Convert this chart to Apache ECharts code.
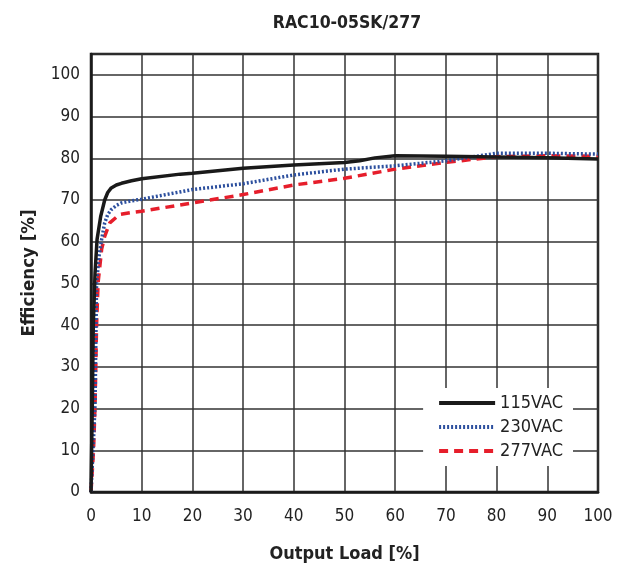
<!DOCTYPE html>
<html>
<head>
<meta charset="utf-8">
<script src="https://cdn.jsdelivr.net/npm/echarts@6/dist/echarts.min.js"></script>
<style>html,body{margin:0;padding:0;background:#fff}#c{width:628px;height:568px}</style>
</head>
<body>
<div id="c"></div>
<script>
const titleText = "RAC10-05SK/277";
const seriesNames = ["115VAC", "230VAC", "277VAC"];
const xTicks = [0, 10, 20, 30, 40, 50, 60, 70, 80, 90, 100];
const yTicks = [0, 10, 20, 30, 40, 50, 60, 70, 80, 90, 100];

const load115 = [0, 0.26, 0.45, 0.8, 1.2, 1.9, 2.7, 3.3, 4, 5, 6, 8, 10, 17.6, 20, 30, 40, 50, 53, 56, 60, 70, 80, 90, 100];
const eff115  = [0, 20.9, 40, 52.6, 60.6, 66, 70, 71.8, 72.9, 73.6, 74.0, 74.6, 75.1, 76.2, 76.4, 77.6, 78.4, 79.0, 79.4, 80.1, 80.6, 80.5, 80.3, 80.1, 79.8];

const load230 = [0, 0.4, 0.8, 1.1, 1.6, 2.1, 2.7, 3.3, 4, 5, 6, 8, 10, 20, 30, 40, 50, 60, 70, 80, 90, 100];
const eff230  = [0, 10, 21, 50, 56.6, 60.6, 64.5, 66.5, 67.7, 68.7, 69.3, 69.8, 70.2, 72.5, 73.9, 76.0, 77.4, 78.2, 79.4, 81.2, 81.2, 81.0];

const load277 = [0, 0.5, 0.8, 1.1, 1.4, 2.1, 2.7, 3.7, 5.6, 8, 10, 20, 30, 40, 50, 60, 70, 80, 90, 100];
const eff277  = [0, 10, 20.9, 40, 50.2, 58.2, 61.3, 64.5, 66.5, 67.0, 67.3, 69.3, 71.3, 73.6, 75.2, 77.4, 79.0, 80.4, 80.6, 80.5];

const FONT = "'DejaVu Sans Condensed', 'Liberation Sans', sans-serif";
const pair = (xs, ys) => xs.map((x, i) => [x, ys[i]]);

const chart = echarts.init(document.getElementById('c'), null, {renderer: 'canvas'});
chart.setOption({
  animation: false,
  backgroundColor: '#fff',
  textStyle: {fontFamily: FONT},
  title: {
    text: titleText, left: 342, top: 9, textAlign: 'center',
    textStyle: {fontFamily: FONT, fontSize: 17.5, fontWeight: 'bold', color: '#222'}
  },
  grid: {left: 91, right: 30, top: 54, bottom: 75, show: true, borderColor: '#1a1a1a', borderWidth: 2.5, backgroundColor: 'transparent'},
  legend: {
    data: seriesNames, orient: 'vertical', right: 55, bottom: 102,
    backgroundColor: '#fff', padding: [6, 10, 6, 14], itemGap: 6,
    itemWidth: 56, itemHeight: 14,
    itemStyle: {opacity: 0},
    lineStyle: {width: 4},
    textStyle: {fontFamily: FONT, fontSize: 18, color: '#222'}
  },
  xAxis: {
    type: 'value', min: xTicks[0], max: xTicks[xTicks.length - 1], interval: 10,
    name: 'Output Load [%]', nameLocation: 'middle', nameGap: 53,
    nameTextStyle: {fontFamily: FONT, fontSize: 18, fontWeight: 'bold', color: '#222'},
    axisLine: {show: true, lineStyle: {color: '#1a1a1a', width: 2.5}},
    axisTick: {show: false},
    axisLabel: {fontFamily: FONT, fontSize: 17, color: '#222', margin: 16},
    splitLine: {show: true, lineStyle: {color: '#333', width: 1.5}}
  },
  yAxis: {
    type: 'value', min: yTicks[0], max: 105, interval: 10,
    name: 'Efficiency [%]', nameLocation: 'middle', nameGap: 52,
    nameTextStyle: {fontFamily: FONT, fontSize: 18.5, fontWeight: 'bold', color: '#222'},
    axisLine: {show: true, lineStyle: {color: '#1a1a1a', width: 2.5}},
    axisTick: {show: false},
    axisLabel: {fontFamily: FONT, fontSize: 17, color: '#222', margin: 11, showMaxLabel: false,
      formatter: v => (yTicks.indexOf(v) >= 0 ? String(v) : '')},
    splitLine: {show: true, lineStyle: {color: '#333', width: 1.5}}
  },
  series: [
    {name: seriesNames[0], type: 'line', data: pair(load115, eff115), symbol: 'none', z: 5,
     lineStyle: {color: '#1a1a1a', width: 3.5}, itemStyle: {color: '#1a1a1a'}},
    {name: seriesNames[1], type: 'line', data: pair(load230, eff230), symbol: 'none', z: 4,
     lineStyle: {color: '#2c4f9e', width: 3.5, type: [2, 2]}, itemStyle: {color: '#2c4f9e'}},
    {name: seriesNames[2], type: 'line', data: pair(load277, eff277), symbol: 'none', z: 3,
     lineStyle: {color: '#e61e2b', width: 3.5, type: [9, 6]}, itemStyle: {color: '#e61e2b'}}
  ]
});
</script>
</body>
</html>
